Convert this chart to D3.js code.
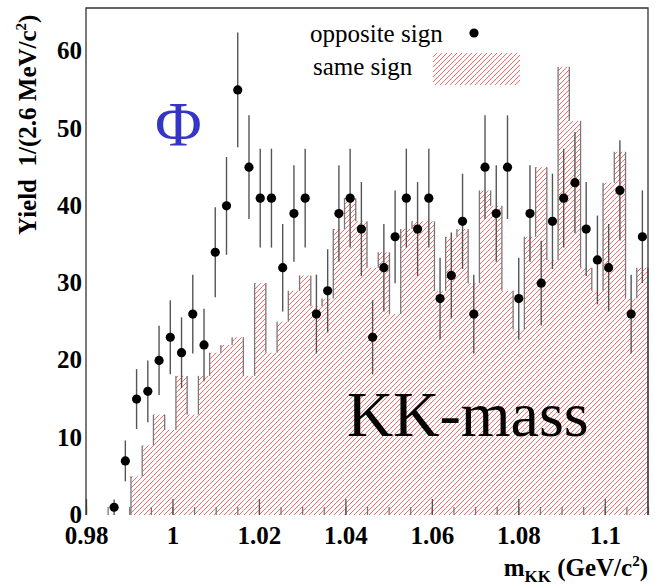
<!DOCTYPE html>
<html>
<head>
<meta charset="utf-8">
<script src="https://cdn.jsdelivr.net/npm/d3@7"></script>
<style>
  body { margin: 0; background: #fff; }
  svg { display: block; }
</style>
</head>
<body>
<div id="chart-container"></div>
<script>
// Histogram binning: 50 bins of 2.6 MeV starting at 0.98 GeV
const binLow = 0.98;
const binWidth = 0.0026;

// Opposite sign KK pairs (points with sqrt(N) errors)
const oppositeSign = [0, 0, 1, 7, 15, 16, 20, 23, 21, 26,
  22, 34, 40, 55, 45, 41, 41, 32, 39, 41,
  26, 29, 39, 41, 37, 23, 32, 36, 41, 37,
  41, 28, 31, 38, 26, 45, 39, 45, 28, 39,
  30, 38, 41, 43, 37, 33, 32, 42, 26, 36];

// Same sign KK pairs (hatched histogram)
const sameSign = [0, 0, 0, 0, 5, 9, 13, 11, 18, 13,
  18, 21, 22, 23, 18, 30, 21, 25, 29, 31,
  27, 28, 37, 41, 38, 32, 34, 26, 37, 38,
  38, 29, 36, 37, 30, 42, 40, 29, 24, 36,
  45, 33, 58, 51, 32, 29, 43, 47, 28, 32];

const xTicks = [0.98, 1, 1.02, 1.04, 1.06, 1.08, 1.1];
const xMinorTicks = d3.range(0, 27).map(i => 0.98 + i * 0.005);
const yTicks = [0, 10, 20, 30, 40, 50, 60];

// Set dimensions and margins
const W = 655, H = 586;
const margin = { top: 8, right: 7, bottom: 71, left: 86 };
const width = W - margin.left - margin.right;
const height = H - margin.top - margin.bottom;

const x = d3.scaleLinear().domain([0.98, 1.11]).range([0, width]);
const y = d3.scaleLinear().domain([0, 65.6]).range([height, 0]);

const svg = d3.select("#chart-container")
  .append("svg")
  .attr("width", W)
  .attr("height", H);

// hatch pattern like ROOT fill style 3004
const defs = svg.append("defs");
const pat = defs.append("pattern")
  .attr("id", "hatch")
  .attr("patternUnits", "userSpaceOnUse")
  .attr("width", 5)
  .attr("height", 5);
pat.append("path")
  .attr("d", "M0,5 L5,0 M-1,1 L1,-1 M4,6 L6,4")
  .attr("stroke", "#ff4040")
  .attr("stroke-width", 0.8);

const g = svg.append("g")
  .attr("transform", `translate(${margin.left},${margin.top})`);

const bins = sameSign.map((v, i) => ({
  lo: binLow + i * binWidth,
  hi: binLow + (i + 1) * binWidth,
  same: v,
  opp: oppositeSign[i]
}));

// same sign histogram fill
g.selectAll(".bar")
  .data(bins.filter(d => d.same > 0))
  .enter().append("rect")
  .attr("class", "bar")
  .attr("x", d => x(d.lo))
  .attr("width", d => x(d.hi) - x(d.lo))
  .attr("y", d => y(d.same))
  .attr("height", d => y(0) - y(d.same))
  .attr("fill", "url(#hatch)");

// vertical steps of the histogram outline
const edges = d3.range(0, bins.length + 1).map(i => ({
  e: binLow + i * binWidth,
  a: i > 0 ? sameSign[i - 1] : 0,
  b: i < bins.length ? sameSign[i] : 0
})).filter(d => d.a !== d.b);

g.selectAll(".step")
  .data(edges)
  .enter().append("line")
  .attr("x1", d => x(d.e))
  .attr("x2", d => x(d.e))
  .attr("y1", d => y(d.a))
  .attr("y2", d => y(d.b))
  .attr("stroke", "#777")
  .attr("stroke-width", 1.3);

// Phi and KK-mass labels
g.append("text")
  .attr("x", 155 - margin.left)
  .attr("y", 146 - margin.top)
  .style("font-family", "'Liberation Serif', serif")
  .style("font-size", "64px")
  .style("fill", "#3535c8")
  .text("Φ");

g.append("text")
  .attr("x", 347 - margin.left)
  .attr("y", 436 - margin.top)
  .style("font-family", "'Liberation Serif', serif")
  .style("font-size", "64px")
  .style("fill", "#000")
  .text("KK-mass");

// x-axis ticks (inside, pointing up)
const xMinor = g.append("g")
  .attr("transform", `translate(0,${height})`)
  .call(d3.axisBottom(x).tickValues(xMinorTicks).tickSize(-8).tickFormat(""));
xMinor.select(".domain").remove();
xMinor.selectAll("line").attr("stroke", "#777").attr("stroke-width", 1.3);

const xAxis = g.append("g")
  .attr("transform", `translate(0,${height})`)
  .call(d3.axisBottom(x).tickValues(xTicks).tickSize(-16).tickPadding(11)
    .tickFormat(d => String(+d.toFixed(2))));
xAxis.select(".domain").remove();
xAxis.selectAll("line").attr("stroke", "#555").attr("stroke-width", 1.3);
xAxis.selectAll("text")
  .style("font-family", "'Liberation Serif', serif")
  .style("font-weight", "bold")
  .style("font-size", "25px")
  .attr("fill", "#000");

// y-axis labels
const yAxis = g.append("g")
  .call(d3.axisLeft(y).tickValues(yTicks).tickSize(0).tickPadding(4));
yAxis.select(".domain").remove();
yAxis.selectAll("text")
  .attr("dy", "0.3em")
  .style("font-family", "'Liberation Serif', serif")
  .style("font-weight", "bold")
  .style("font-size", "25px")
  .attr("fill", "#000");

// error bars for opposite sign
const pts = bins.filter(d => d.opp > 0);
g.selectAll(".err")
  .data(pts)
  .enter().append("line")
  .attr("x1", d => x((d.lo + d.hi) / 2))
  .attr("x2", d => x((d.lo + d.hi) / 2))
  .attr("y1", d => y(d.opp - Math.sqrt(d.opp)))
  .attr("y2", d => y(d.opp + Math.sqrt(d.opp)))
  .attr("stroke", "#555")
  .attr("stroke-width", 1.4);

g.selectAll(".pt")
  .data(pts)
  .enter().append("circle")
  .attr("cx", d => x((d.lo + d.hi) / 2))
  .attr("cy", d => y(d.opp))
  .attr("r", 4.6)
  .attr("fill", "#000");

// frame: left, top, right
g.append("path")
  .attr("d", `M0,${height} V0 H${width} V${height}`)
  .attr("fill", "none")
  .attr("stroke", "#333")
  .attr("stroke-width", 1.3);

// legend
const leg = svg.append("g")
  .style("font-family", "'Liberation Serif', serif")
  .style("font-size", "25px");
leg.append("text").attr("x", 310).attr("y", 42).text("opposite sign");
leg.append("circle").attr("cx", 474).attr("cy", 33).attr("r", 4.6).attr("fill", "#000");
leg.append("text").attr("x", 313).attr("y", 75).text("same sign");
leg.append("rect")
  .attr("x", 433).attr("y", 53)
  .attr("width", 87).attr("height", 32)
  .attr("fill", "url(#hatch)");

// x-axis title
const xt = svg.append("text")
  .attr("x", 648)
  .attr("y", 576)
  .attr("text-anchor", "end")
  .style("font-family", "'Liberation Serif', serif")
  .style("font-weight", "bold")
  .style("font-size", "25px");
xt.append("tspan").text("m");
xt.append("tspan").attr("dy", 6).style("font-size", "17px").text("KK");
xt.append("tspan").attr("dy", -6).text(" (GeV/c");
xt.append("tspan").attr("dy", -10).style("font-size", "15px").text("2");
xt.append("tspan").attr("dy", 10).text(")");

// y-axis title
const yt = svg.append("text")
  .attr("transform", "translate(36,235) rotate(-90)")
  .style("white-space", "pre")
  .style("font-family", "'Liberation Serif', serif")
  .style("font-weight", "bold")
  .style("font-size", "25px");
yt.append("tspan").text("Yield  1/(2.6 MeV/c");
yt.append("tspan").attr("dy", -10).style("font-size", "15px").text("2");
yt.append("tspan").attr("dy", 10).text(")");
</script>
</body>
</html>
